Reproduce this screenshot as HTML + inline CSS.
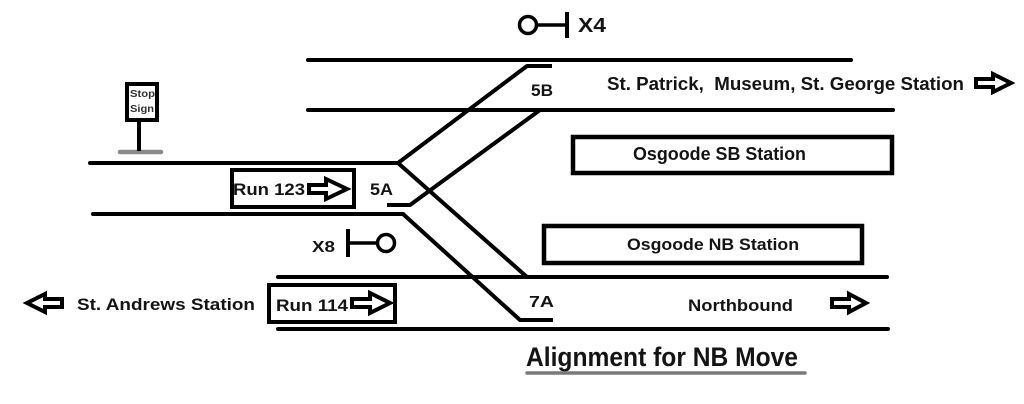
<!DOCTYPE html>
<html>
<head>
<meta charset="utf-8">
<style>
  html, body { margin: 0; padding: 0; background: #fff; }
  body { width: 1024px; height: 404px; overflow: hidden; }
  svg { display: block; }
  text { font-family: "Liberation Sans", Arial, sans-serif; font-weight: bold; fill: #141414; }
</style>
</head>
<body>
<svg width="1024" height="404" viewBox="0 0 1024 404" xmlns="http://www.w3.org/2000/svg">
  <rect x="0" y="0" width="1024" height="404" fill="#fff"/>

  <!-- Tracks -->
  <g stroke="#000" stroke-width="4" stroke-linecap="round" fill="none">
    <line x1="308" y1="60" x2="851" y2="60"/>
    <line x1="308" y1="110" x2="893" y2="110"/>
    <line x1="90" y1="163" x2="398" y2="163"/>
    <line x1="93" y1="214" x2="403" y2="214"/>
    <line x1="278" y1="277" x2="887" y2="277"/>
    <line x1="278" y1="329" x2="888" y2="329"/>
  </g>

  <!-- Crossovers / diagonals -->
  <g stroke="#000" stroke-width="4" stroke-linecap="butt" stroke-linejoin="round" fill="none">
    <polyline points="398,163 527,66 552,66"/>
    <line x1="398" y1="163" x2="527" y2="277"/>
    <polyline points="387,205 410,205 540,110"/>
    <polyline points="403,214 520,320 553,320"/>
  </g>

  <!-- Signal X4 -->
  <circle cx="528" cy="25" r="8.5" fill="#fff" stroke="#000" stroke-width="3.5"/>
  <line x1="536" y1="25" x2="567" y2="25" stroke="#000" stroke-width="3.5"/>
  <line x1="567" y1="12" x2="567" y2="38" stroke="#000" stroke-width="4"/>
  <text x="578" y="32" font-size="20" textLength="28" lengthAdjust="spacingAndGlyphs">X4</text>

  <!-- Signal X8 -->
  <line x1="348" y1="229" x2="348" y2="257" stroke="#000" stroke-width="4"/>
  <line x1="348" y1="243" x2="378" y2="243" stroke="#000" stroke-width="3.5"/>
  <circle cx="386" cy="243" r="8.5" fill="#fff" stroke="#000" stroke-width="3.5"/>
  <text x="312" y="252" font-size="16" textLength="23" lengthAdjust="spacingAndGlyphs">X8</text>

  <!-- Stop sign -->
  <line x1="120" y1="152" x2="161" y2="152" stroke="#8a8a8a" stroke-width="4.5" stroke-linecap="round"/>
  <line x1="139" y1="120" x2="139" y2="151" stroke="#000" stroke-width="4"/>
  <rect x="127" y="84" width="30" height="36" fill="#fff" stroke="#000" stroke-width="4"/>
  <text x="130" y="97" font-size="10" style="fill:#333" textLength="25" lengthAdjust="spacingAndGlyphs">Stop</text>
  <text x="130" y="112" font-size="10" style="fill:#333" textLength="24" lengthAdjust="spacingAndGlyphs">Sign</text>

  <!-- Labels -->
  <text x="531" y="96" font-size="17" textLength="22" lengthAdjust="spacingAndGlyphs">5B</text>
  <text x="370" y="195" font-size="17" textLength="23" lengthAdjust="spacingAndGlyphs">5A</text>
  <text x="529" y="307" font-size="16" textLength="25" lengthAdjust="spacingAndGlyphs">7A</text>

  <text x="607" y="90" font-size="18" textLength="357" lengthAdjust="spacingAndGlyphs">St. Patrick,&#160; Museum, St. George Station</text>

  <!-- Osgoode SB -->
  <rect x="573" y="137" width="319" height="36" fill="none" stroke="#000" stroke-width="4.5"/>
  <text x="633" y="160" font-size="18" textLength="173" lengthAdjust="spacingAndGlyphs">Osgoode SB Station</text>

  <!-- Osgoode NB -->
  <rect x="544" y="226" width="318" height="37" fill="none" stroke="#000" stroke-width="4.5"/>
  <text x="627" y="250" font-size="17" textLength="172" lengthAdjust="spacingAndGlyphs">Osgoode NB Station</text>

  <!-- Run 123 -->
  <rect x="232" y="170" width="122" height="37" fill="#fff" stroke="#000" stroke-width="4"/>
  <text x="233" y="195" font-size="17" textLength="72" lengthAdjust="spacingAndGlyphs">Run 123</text>

  <!-- Run 114 -->
  <rect x="269" y="285" width="126" height="37" fill="#fff" stroke="#000" stroke-width="4"/>
  <text x="276" y="311" font-size="17" textLength="72" lengthAdjust="spacingAndGlyphs">Run 114</text>

  <text x="77" y="310" font-size="17" textLength="178" lengthAdjust="spacingAndGlyphs">St. Andrews Station</text>
  <text x="688" y="311" font-size="17" textLength="105" lengthAdjust="spacingAndGlyphs">Northbound</text>

  <!-- Arrows (block outline) -->
  <g fill="#fff" stroke="#000" stroke-width="4" stroke-linejoin="miter">
    <path d="M309,185 L326,185 L326,179 L347,189 L326,199 L326,193 L309,193 Z"/>
    <path d="M352,299 L370,299 L370,293 L390,303 L370,313 L370,307 L352,307 Z"/>
    <path d="M976,79 L993,79 L993,74 L1011,83 L993,92 L993,87 L976,87 Z"/>
    <path d="M832,299 L849,299 L849,294 L866,303 L849,312 L849,307 L832,307 Z"/>
    <path d="M62,299 L45,299 L45,294 L27,303 L45,312 L45,307 L62,307 Z"/>
  </g>

  <!-- Title -->
  <text x="526" y="366" font-size="27" textLength="272" lengthAdjust="spacingAndGlyphs">Alignment for NB Move</text>
  <line x1="527" y1="373" x2="805" y2="373" stroke="#7a7a7a" stroke-width="3.5" stroke-linecap="round"/>
</svg>
</body>
</html>
